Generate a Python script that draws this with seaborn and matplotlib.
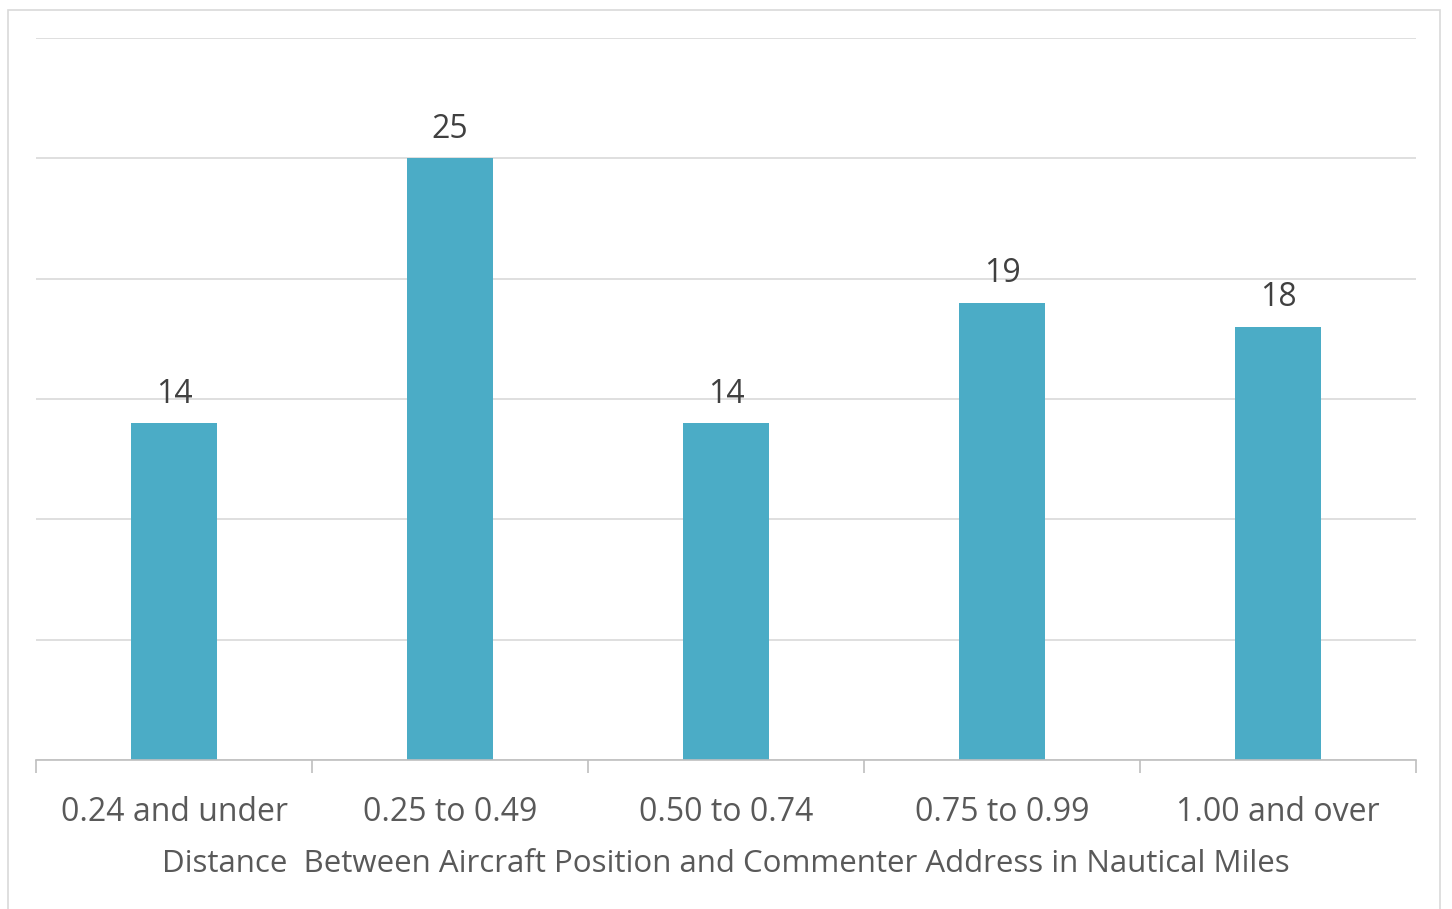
import matplotlib
matplotlib.use("Agg")
import matplotlib.pyplot as plt
import seaborn as sns
import pandas as pd
from matplotlib.patches import Rectangle

categories = ["0.24 and under", "0.25 to 0.49", "0.50 to 0.74", "0.75 to 0.99", "1.00 and over"]
counts = [14, 25, 14, 19, 18]
xlabel = "Distance  Between Aircraft Position and Commenter Address in Nautical Miles"

df = pd.DataFrame({"cat": categories, "n": counts})

sns.set_style("white")
plt.rcParams["font.family"] = ["Open Sans", "DejaVu Sans"]

fig = plt.figure(figsize=(14.52, 9.09), dpi=100)
ax = fig.add_axes([36 / 1452, 1 - 760 / 909, 1380 / 1452, 722 / 909])

sns.barplot(data=df, x="cat", y="n", color="#4BACC6", saturation=1, width=0.315,
            linewidth=0, ax=ax)

ax.set_ylim(0, 30)
ax.set_xlim(-0.5, len(categories) - 0.5)
ax.set_yticks(range(0, 31, 5))
ax.yaxis.grid(True, color="#D9D9D9", linewidth=1.2)
ax.set_axisbelow(True)
ax.tick_params(axis="y", left=False, labelleft=False)
ax.tick_params(axis="x", which="major", length=0, labelsize=23, labelcolor="#595959", pad=26)
ax.set_xticks([i - 0.5 for i in range(len(categories) + 1)], minor=True)
ax.tick_params(axis="x", which="minor", bottom=True, length=9, color="#BFBFBF", width=1.2)
for s in ["top", "right", "left"]:
    ax.spines[s].set_visible(False)
ax.spines["bottom"].set_color("#BFBFBF")
ax.spines["bottom"].set_linewidth(1.2)

ax.set_xlabel(xlabel, fontsize=22.5, color="#595959", labelpad=14)
ax.set_ylabel("")

for i, v in enumerate(counts):
    ax.annotate(str(v), (i, v), xytext=(0, 9), textcoords="offset points",
                ha="center", va="bottom", fontsize=23, color="#404040")

fig.patches.append(Rectangle((8 / 1452, -0.01), 1432 / 1452, 1 - 10 / 909 + 0.01,
                             transform=fig.transFigure, fill=False,
                             edgecolor="#D9D9D9", linewidth=1.2))

fig.savefig("out.png", dpi=100)
